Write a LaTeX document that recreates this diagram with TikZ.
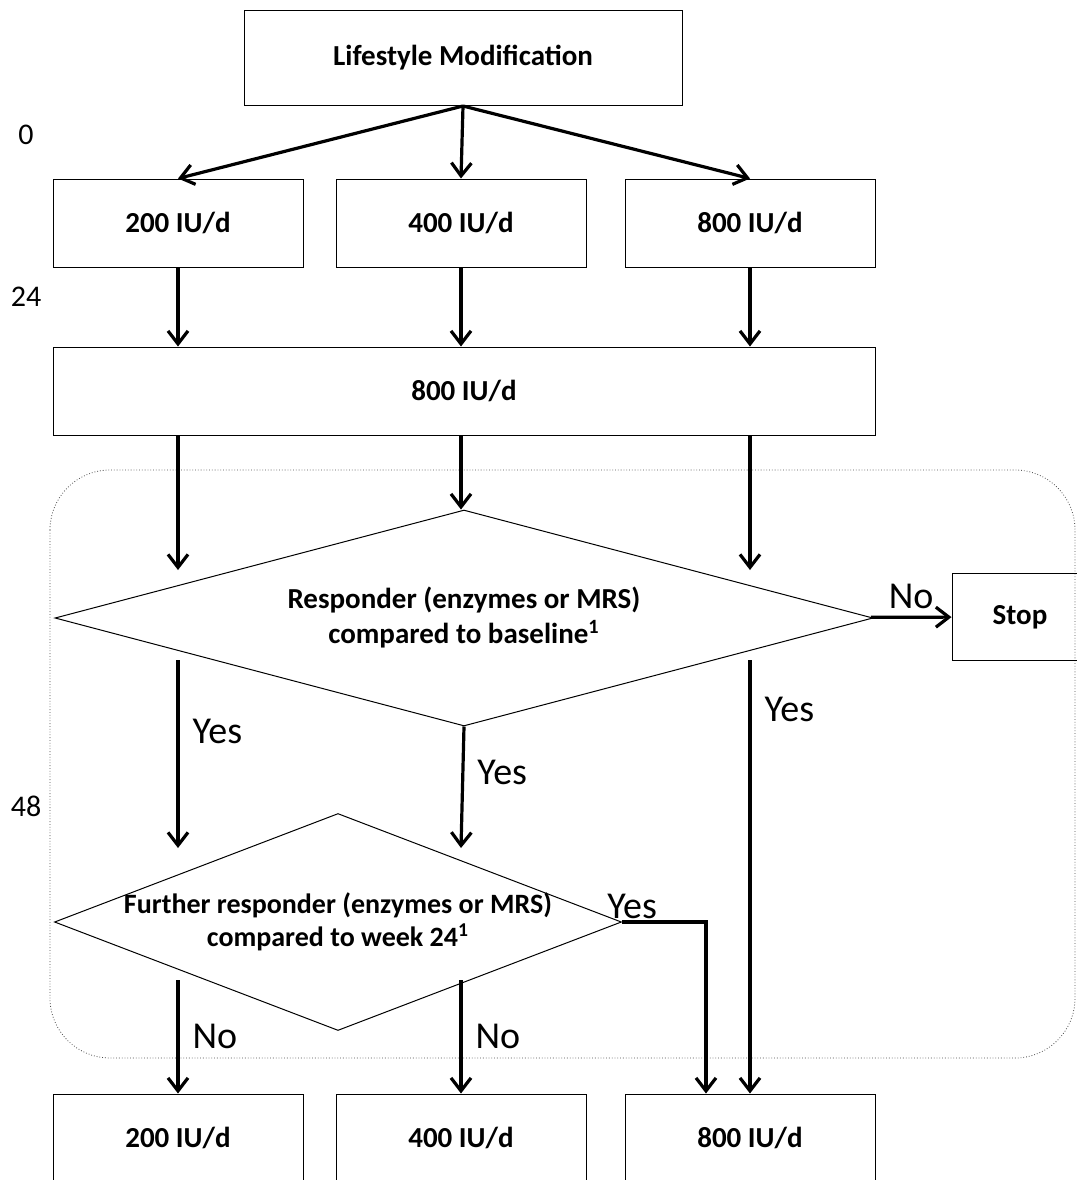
\documentclass[tikz,border=0pt]{standalone}
\usepackage{fontspec}
\setmainfont{Carlito}
\usetikzlibrary{arrows.meta,positioning,shapes.geometric}

\begin{document}
\begin{tikzpicture}[x=0.5pt,y=-0.5pt,node distance=141.5pt,on grid,auto,
  >={Straight Barb[length=6.5pt,width=10pt]},
  box/.style={draw,line width=0.5pt,minimum width=125pt,minimum height=44pt,inner sep=2pt,
    font=\bfseries\fontsize{14.5}{17.5}\selectfont},
  test/.style={draw,diamond,line width=0.5pt,inner sep=0pt,align=center,
    font=\bfseries\fontsize{14.5}{17.5}\selectfont},
  flow/.style={->,line width=1.6pt},
  lbl/.style={font=\fontsize{19}{22}\selectfont,inner xsep=6.5pt},
  week/.style={font=\fontsize{15}{17}\selectfont}]
  \useasboundingbox (0,0) rectangle (1077,1180);
  \draw[densely dotted,line width=0.4pt,black!70,rounded corners=30pt] (50,470) rectangle (1075,1058);

  \node[week] (w0) at (26,135) {0};
  \node[week] (w24) at (26,297) {24};
  \node[week] (w48) at (26,806) {48};

  \node[box,minimum width=219pt,minimum height=47.5pt] (life) at (463,58) {Lifestyle Modification};
  \node[box] (a400) at (461,223) {400 IU/d};
  \node[box] (a200) [left=of a400] {200 IU/d};
  \node[box] (a800) [right=144.5pt of a400] {800 IU/d};
  \node[box,minimum width=411pt] (b800) at (464,391) {800 IU/d};
  \node[test,minimum width=409pt,minimum height=108pt,aspect=3.8] (resp) at (464,618)
    {Responder (enzymes or MRS)\\compared to baseline\textsuperscript{1}};
  \node[box,minimum width=68pt,minimum height=43.5pt] (stop) at (1020,617) {Stop};
  \node[test,minimum width=283.5pt,minimum height=108.5pt,aspect=2.6,inner xsep=-8pt,
    font=\bfseries\fontsize{14}{16.5}\selectfont] (more) at (338,922)
    {Further responder (enzymes or MRS)\\compared to week 24\textsuperscript{1}};
  \node[box] (c200) at (178,1138) {200 IU/d};
  \node[box] (c400) [right=of c200] {400 IU/d};
  \node[box] (c800) [right=144.5pt of c400] {800 IU/d};

  \coordinate (in200) at (178,570);
  \coordinate (in800) at (750,570);
  \coordinate (out200) at (178,660);
  \coordinate (out800) at (750,660);
  \coordinate (to200) at (178,848);
  \coordinate (to400) at (461,848);
  \coordinate (no200) at (178,980);
  \coordinate (no400) at (461,980);

  \path[flow]
  (life.south)
  edge (a200.north)
  edge (a400.north)
  edge (a800.north)
  (a200) edge (a200 |- b800.north)
  (a400) edge (a400 |- b800.north)
  (a800) edge (a800 |- b800.north)
  (b800.south -| a200) edge (in200)
  (b800.south -| a400) edge (a400 |- resp.north)
  (b800.south -| a800) edge (in800)
  (resp) edge node[lbl,inner xsep=3pt] {No} (stop)
  (out200) edge node[lbl,pos=0.38] {Yes} (to200)
  (resp.south) edge node[lbl,pos=0.38] {Yes} (to400)
  (out800) edge node[lbl,pos=0.115] {Yes} (c800.north)
  (no200) edge node[lbl] {No} (c200.north)
  (no400) edge node[lbl] {No} (c400.north)
  ;
  \draw[flow] (more.east) -| node[lbl,pos=0.06,above,inner sep=1pt] {Yes} ([xshift=-22pt]c800.north);
\end{tikzpicture}
\end{document}
